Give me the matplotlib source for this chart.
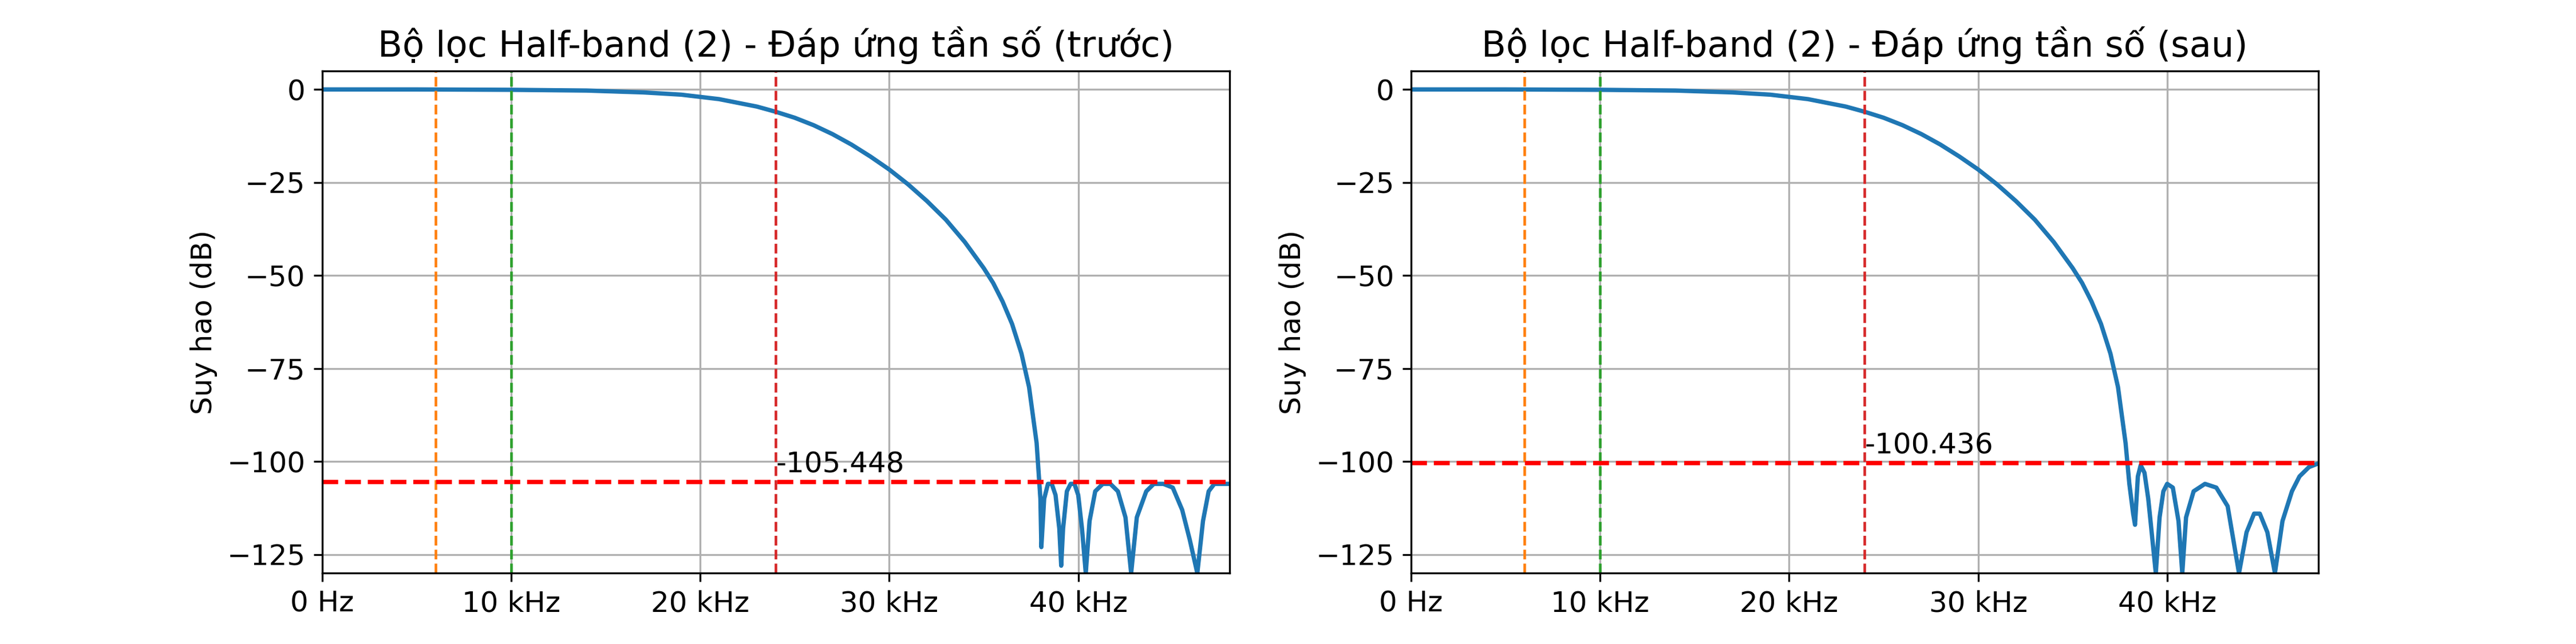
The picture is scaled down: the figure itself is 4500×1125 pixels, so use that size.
import matplotlib
matplotlib.use("Agg")
import matplotlib.pyplot as plt
from matplotlib.ticker import FuncFormatter

titles = ["Bộ lọc Half-band (2) - Đáp ứng tần số (trước)",
          "Bộ lọc Half-band (2) - Đáp ứng tần số (sau)"]
ylabel = "Suy hao (dB)"
vlines = [(6000, "tab:orange"), (10000, "tab:green"), (24000, "tab:red")]
hlevels = [-105.448, -100.436]

f_left = [0, 5000, 10000, 14000, 17000, 19000, 21000, 23000, 24000, 25000, 26000, 27000, 28000, 29000,
          30000, 31000, 32000, 33000, 34000, 35000, 35500,
          36000, 36500, 37000, 37400, 37800, 38000, 38050, 38200, 38400, 38600, 38800, 39000, 39100, 39200,
          39400, 39600, 39800, 40000, 40200, 40400, 40600, 40900, 41300, 41700, 42100, 42500, 42800,
          43100, 43600, 44000, 44500, 45000, 45500, 45900, 46300, 46600, 46900, 47200, 47600, 48000]
h_left = [0, 0, -0.1, -0.3, -0.8, -1.4, -2.6, -4.6, -6.0, -7.6, -9.6, -12, -14.8, -18,
          -21.5, -25.5, -30, -35, -41, -48, -52,
          -57, -63, -71, -80, -95, -110, -123, -110, -106, -106, -109, -118, -128, -118,
          -108, -106, -106, -109, -118, -130, -116, -108, -106, -106, -108, -115, -130,
          -115, -108, -106, -106, -107, -113, -121, -130, -116, -108, -106, -106, -106]

f_right = [0, 5000, 10000, 14000, 17000, 19000, 21000, 23000, 24000, 25000, 26000, 27000, 28000, 29000,
           30000, 31000, 32000, 33000, 34000, 35000, 35500,
           36000, 36500, 37000, 37400, 37800, 38000, 38200, 38300, 38450, 38600, 38800, 39000, 39200, 39400,
           39600, 39800, 40000, 40300, 40600, 40800, 41000, 41400, 42000, 42600, 43200, 43800, 44200,
           44600, 44900, 45300, 45700, 46100, 46600, 47000, 47500, 48000]
h_right = [0, 0, -0.1, -0.3, -0.8, -1.4, -2.6, -4.6, -6.0, -7.6, -9.6, -12, -14.8, -18,
           -21.5, -25.5, -30, -35, -41, -48, -52,
           -57, -63, -71, -80, -95, -106, -114, -117, -104, -101, -103, -110, -120, -130,
           -115, -108, -106, -107, -116, -130, -115, -108, -106, -107, -112, -130, -119,
           -114, -114, -119, -130, -116, -108, -104, -101.5, -100.5]

fig, axes = plt.subplots(1, 2, figsize=(15, 3.75), dpi=300)
fig.subplots_adjust(left=0.125, right=0.9, bottom=0.11, top=0.89, wspace=0.2)
fmt = FuncFormatter(lambda v, p: "0 Hz" if v == 0 else f"{v/1000:g} kHz")
for ax, t, f, h, lv in zip(axes, titles, [f_left, f_right], [h_left, h_right], hlevels):
    ax.plot(f, h, color="tab:blue", lw=1.8)
    for x, c in vlines:
        ax.axvline(x, color=c, ls="--", lw=1.1)
    ax.axhline(lv, color="red", ls="--", lw=1.8)
    ax.text(24000, lv + 1, f"{lv:g}", fontsize=12, va="bottom")
    ax.set_xlim(0, 48000)
    ax.set_ylim(-130, 5)
    ax.set_xticks([0, 10000, 20000, 30000, 40000])
    ax.xaxis.set_major_formatter(fmt)
    ax.set_yticks([0, -25, -50, -75, -100, -125])
    ax.grid(True)
    ax.set_title(t, fontsize=15)
    ax.set_ylabel(ylabel, fontsize=12)
    ax.tick_params(labelsize=12)
fig.savefig("out.png")
